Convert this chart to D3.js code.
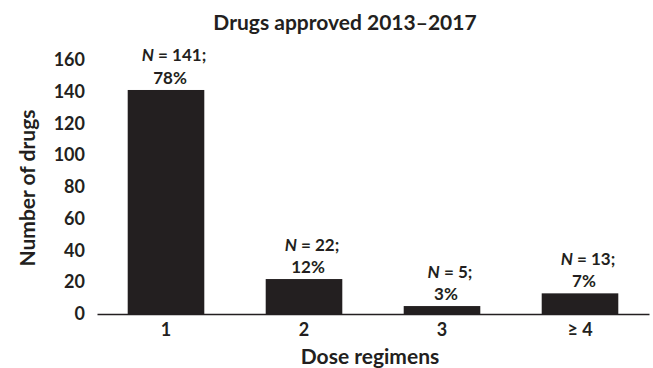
<!DOCTYPE html>
<html>
<head>
<meta charset="utf-8">
<script src="https://cdn.jsdelivr.net/npm/d3@7"></script>
<style>
  html, body { margin: 0; padding: 0; background: #fff; }
  svg { display: block; }
  text { font-family: Lato, "Open Sans", sans-serif; font-weight: bold; fill: #231f20; }
</style>
</head>
<body>
<svg id="chart" width="653" height="368"></svg>
<script>
const categories = ["1", "2", "3", "\u2265 4"];
const counts = [141, 22, 5, 13];
const percents = ["78%", "12%", "3%", "7%"];
const yTicks = [0, 20, 40, 60, 80, 100, 120, 140, 160];
const chartTitle = "Drugs approved 2013\u20132017";
const xTitle = "Dose regimens";
const yTitle = "Number of drugs";

const svg = d3.select("#chart");
const ink = "#231f20";

const x = d3.scaleBand().domain(categories).range([97, 649]).paddingInner(0.445).paddingOuter(0.2225);
const y = d3.scaleLinear().domain([0, 160]).range([314, 59.8]);

// Title
svg.append("text").attr("x", 345).attr("y", 30).attr("text-anchor", "middle")
  .style("font-size", "21px").text(chartTitle);

// Bars
svg.selectAll("rect.bar").data(counts).join("rect").attr("class", "bar")
  .attr("x", (d, i) => x(categories[i]))
  .attr("width", x.bandwidth())
  .attr("y", d => y(d))
  .attr("height", d => y(0) - y(d))
  .attr("fill", ink);

// X axis line
const xAxis = d3.axisBottom(x).tickSize(0).tickPadding(9);
const gx = svg.append("g").attr("transform", `translate(0,${y(0)})`).call(xAxis);
gx.select(".domain").attr("stroke", ink).attr("stroke-width", 1.3);
gx.selectAll(".tick text").style("font-size", "18px").attr("fill", ink);

// Y axis labels (no line)
const yAxis = d3.axisLeft(y).tickValues(yTicks).tickSize(0).tickPadding(0);
const gy = svg.append("g").attr("transform", "translate(85,0)").call(yAxis);
gy.select(".domain").remove();
gy.selectAll(".tick text").style("font-size", "18px").attr("fill", ink).attr("text-anchor", "end");

// Value labels
const lab = svg.selectAll("g.lab").data(counts).join("g").attr("class", "lab")
  .attr("transform", (d, i) => `translate(${x(categories[i]) + x.bandwidth() / 2 + 4},${y(d) - 6})`);
const l1 = lab.append("text").attr("text-anchor", "middle").attr("x", 4).attr("y", -22.5).style("font-size", "17px");
l1.append("tspan").style("font-style", "italic").text("N");
l1.append("tspan").text(d => " = " + d + ";");
lab.append("text").attr("text-anchor", "middle").attr("y", 0).style("font-size", "17px")
  .text((d, i) => percents[i]);

// Axis titles
svg.append("text").attr("x", 370).attr("y", 364).attr("text-anchor", "middle")
  .style("font-size", "21px").text(xTitle);
svg.append("text").attr("transform", "translate(35,188) rotate(-90)").attr("text-anchor", "middle")
  .style("font-size", "21px").text(yTitle);
</script>
</body>
</html>
